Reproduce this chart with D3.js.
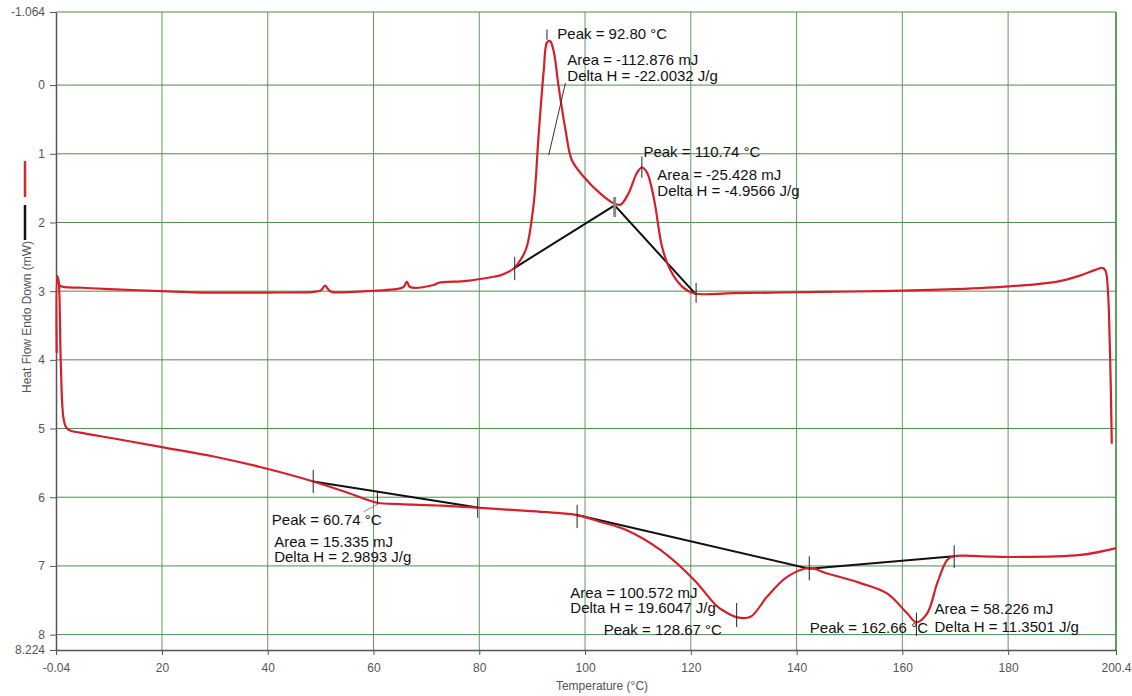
<!DOCTYPE html>
<html>
<head>
<meta charset="utf-8">
<script src="https://cdn.jsdelivr.net/npm/d3@7/dist/d3.min.js"></script>
<style>
  html, body { margin: 0; padding: 0; background: #fff; }
  svg { display: block; font-family: Arial, "Liberation Sans", sans-serif; }
</style>
</head>
<body>
<svg id="chart" width="1132" height="696"></svg>
<script>
// ---------- DATA ----------
const xTickValues = [-0.04, 20, 40, 60, 80, 100, 120, 140, 160, 180, 200.4];
const xTickLabels = ["-0.04", "20", "40", "60", "80", "100", "120", "140", "160", "180", "200.4"];
const yTickValues = [-1.064, 0, 1, 2, 3, 4, 5, 6, 7, 8, 8.224];
const yTickLabels = ["-1.064", "0", "1", "2", "3", "4", "5", "6", "7", "8", "8.224"];

// upper (cooling) trace: temperature (°C), heat flow (mW)
const upperT = [0.25, 0.7, 5, 10, 20, 27.2, 39.8, 48.6, 50.0, 50.86, 51.5, 52.1, 58.7, 65.05, 65.8, 66.3, 66.9, 71.35, 72.3, 77.65, 82.7, 84.0, 86.5, 88.0, 89.0, 90.3, 91.2, 92.2, 92.8, 93.4, 94.1, 95.0, 96.3, 97.5, 99.7, 102.9, 105.4, 106.7, 108.2, 109.8, 110.74, 111.7, 112.6, 113.3, 114.55, 116.1, 118.3, 120.55, 128.1, 144.5, 155.9, 170, 180.2, 189.3, 193.7, 196.5, 197.8, 198.4, 198.9, 199.2, 199.4, 199.6];
const upperV = [2.80, 2.92, 2.95, 2.97, 3.00, 3.02, 3.02, 3.01, 2.99, 2.92, 2.98, 3.01, 3.00, 2.96, 2.93, 2.86, 2.94, 2.91, 2.88, 2.85, 2.79, 2.77, 2.67, 2.52, 2.35, 1.72, 0.75, -0.22, -0.62, -0.64, -0.48, 0.02, 0.65, 1.09, 1.33, 1.58, 1.72, 1.74, 1.58, 1.28, 1.20, 1.27, 1.50, 1.77, 2.35, 2.69, 2.93, 3.03, 3.03, 3.01, 3.00, 2.97, 2.93, 2.86, 2.77, 2.69, 2.66, 2.70, 3.03, 3.71, 4.34, 5.22];

// lower (heating) trace
const lowerT = [0.1, 0.2, 0.45, 0.85, 1.34, 1.85, 2.6, 4.5, 12, 20, 30, 38.56, 48.6, 55, 60.7, 65, 72, 79.6, 89, 95.3, 98.5, 103, 107.9, 114.3, 120.6, 125, 127.5, 128.8, 131.3, 134.4, 138.2, 142.3, 145.8, 152.1, 157.1, 160.9, 162.66, 164.7, 166.6, 168.5, 169.7, 175, 181.1, 193.7, 200.4];
const lowerV = [3.9, 2.78, 2.85, 4.0, 4.83, 4.98, 5.03, 5.06, 5.16, 5.27, 5.41, 5.56, 5.77, 5.93, 6.08, 6.10, 6.12, 6.15, 6.20, 6.23, 6.26, 6.36, 6.48, 6.77, 7.20, 7.59, 7.71, 7.75, 7.74, 7.45, 7.16, 7.03, 7.11, 7.25, 7.40, 7.69, 7.82, 7.69, 7.25, 6.91, 6.86, 6.86, 6.87, 6.84, 6.74];

// integration baselines
const baseUpperT = [86.7, 105.6, 121.0];
const baseUpperV = [2.66, 1.75, 3.05];
const baseLow1T = [48.6, 79.7];
const baseLow1V = [5.77, 6.15];
const baseLow2T = [98.5, 142.4, 169.8];
const baseLow2V = [6.26, 7.04, 6.86];

// marker ticks: temperature, from, to (mW)
const markT    = [86.7, 121.0, 92.8, 110.74, 48.6, 79.7, 60.74, 98.5, 142.4, 169.8, 128.67, 162.66];
const markFrom = [2.50, 2.88, -0.81, 1.04, 5.60, 6.00, 5.91, 6.11, 6.86, 6.70, 7.54, 7.68];
const markTo   = [2.84, 3.17, -0.66, 1.35, 5.94, 6.30, 6.11, 6.45, 7.21, 7.03, 7.89, 8.02];
const splitMarkT = [105.6], splitMarkFrom = [1.63], splitMarkTo = [1.92];

// annotation texts with anchor (temperature, mW)
const annText = ["Peak = 92.80 °C", "Area = -112.876 mJ", "Delta H = -22.0032 J/g",
  "Peak = 110.74 °C", "Area = -25.428 mJ", "Delta H = -4.9566 J/g",
  "Peak = 60.74 °C", "Area = 15.335 mJ", "Delta H = 2.9893 J/g",
  "Area = 100.572 mJ", "Delta H = 19.6047 J/g", "Peak = 128.67 °C",
  "Peak = 162.66 °C", "Area = 58.226 mJ", "Delta H = 11.3501 J/g"];
const annT = [94.75, 96.65, 96.65, 111.03, 113.67, 113.67, 40.77, 41.21, 41.21, 97.22, 97.22, 103.52, 142.5, 166.08, 166.08];
const annV = [-0.67, -0.29, -0.06, 1.04, 1.38, 1.61, 6.41, 6.72, 6.95, 7.46, 7.68, 8.0, 7.98, 7.70, 7.96];

// leader lines
const leadT1 = [93.13, 60.63], leadV1 = [1.02, 6.11];
const leadT2 = [96.29, 58.1],  leadV2 = [-0.03, 6.21];

// ---------- CHART ----------
const svg = d3.select("#chart");
const L = 56, R = 1116, T = 12, B = 650;
const x = d3.scaleLinear().domain([-0.04, 200.4]).range([L, R]);
const y = d3.scaleLinear().domain([-1.064, 8.224]).range([T, B]);

// grid
const g = svg.append("g");
g.selectAll("line.vg").data(xTickValues.slice(1)).enter().append("line")
  .attr("x1", d => x(d)).attr("x2", d => x(d)).attr("y1", T).attr("y2", B)
  .attr("stroke", "#5e9e5e").attr("stroke-width", (d, i) => i === xTickValues.length - 2 ? 2 : 1);
g.selectAll("line.hg").data(yTickValues.slice(0, -1)).enter().append("line")
  .attr("x1", L).attr("x2", R).attr("y1", d => y(d)).attr("y2", d => y(d))
  .attr("stroke", "#4f8a4f").attr("stroke-width", 1);

// axes
const yAxis = d3.axisLeft(y).tickValues(yTickValues).tickFormat((d, i) => yTickLabels[i])
  .tickSize(6).tickPadding(5).tickSizeOuter(0);
const xAxis = d3.axisBottom(x).tickValues(xTickValues).tickFormat((d, i) => xTickLabels[i])
  .tickSize(5).tickPadding(8).tickSizeOuter(0);
const ya = svg.append("g").attr("transform", `translate(${L},0)`).call(yAxis);
const xa = svg.append("g").attr("transform", `translate(0,${B})`).call(xAxis);
[ya, xa].forEach(a => {
  a.select(".domain").attr("stroke", "#555").attr("stroke-width", 1.5);
  a.selectAll(".tick line").attr("stroke", "#555");
  a.selectAll(".tick text").attr("fill", "#555").attr("font-size", 12)
    .attr("font-family", "Arial, 'Liberation Sans', sans-serif");
});

// axis titles
svg.append("text").attr("x", (L + R) / 2 + 16).attr("y", 690).attr("text-anchor", "middle")
  .attr("font-size", 12).attr("fill", "#555").text("Temperature (°C)");
svg.append("text").attr("transform", "translate(31,317) rotate(-90)").attr("text-anchor", "middle")
  .attr("font-size", 12).attr("fill", "#555").text("Heat Flow Endo Down (mW)");

// legend marks
svg.append("line").attr("x1", 25).attr("x2", 25).attr("y1", 161).attr("y2", 197)
  .attr("stroke", "#d42a2a").attr("stroke-width", 2.5);
svg.append("line").attr("x1", 25).attr("x2", 25).attr("y1", 205).attr("y2", 240)
  .attr("stroke", "#111").attr("stroke-width", 2.5);

// curves
const line = d3.line().x(d => x(d[0])).y(d => y(d[1])).curve(d3.curveCatmullRom.alpha(0.5));
const straight = d3.line().x(d => x(d[0])).y(d => y(d[1]));
const zip = (a, b) => a.map((v, i) => [v, b[i]]);

[[baseUpperT, baseUpperV], [baseLow1T, baseLow1V], [baseLow2T, baseLow2V]].forEach(([a, b]) => {
  svg.append("path").attr("d", straight(zip(a, b))).attr("fill", "none")
    .attr("stroke", "#111").attr("stroke-width", 2);
});

[[upperT, upperV], [lowerT, lowerV]].forEach(([a, b]) => {
  svg.append("path").attr("d", line(zip(a, b))).attr("fill", "none")
    .attr("stroke", "#d4202a").attr("stroke-width", 2.2).attr("stroke-linejoin", "round");
});

// marker ticks
svg.selectAll("line.mk").data(markT).enter().append("line")
  .attr("x1", d => x(d)).attr("x2", d => x(d))
  .attr("y1", (d, i) => y(markFrom[i])).attr("y2", (d, i) => y(markTo[i]))
  .attr("stroke", "#222").attr("stroke-width", 1);
svg.selectAll("line.smk").data(splitMarkT).enter().append("line")
  .attr("x1", d => x(d)).attr("x2", d => x(d))
  .attr("y1", (d, i) => y(splitMarkFrom[i])).attr("y2", (d, i) => y(splitMarkTo[i]))
  .attr("stroke", "#888").attr("stroke-width", 3);

// leaders
leadT1.forEach((t, i) => {
  svg.append("line").attr("x1", x(t)).attr("y1", y(leadV1[i]))
    .attr("x2", x(leadT2[i])).attr("y2", y(leadV2[i]))
    .attr("stroke", i === 0 ? "#333" : "#888").attr("stroke-width", 1);
});

// annotations
svg.selectAll("text.ann").data(annText).enter().append("text")
  .attr("x", (d, i) => x(annT[i])).attr("y", (d, i) => y(annV[i]))
  .attr("font-size", 15).attr("fill", "#111").text(d => d);
</script>
</body>
</html>
